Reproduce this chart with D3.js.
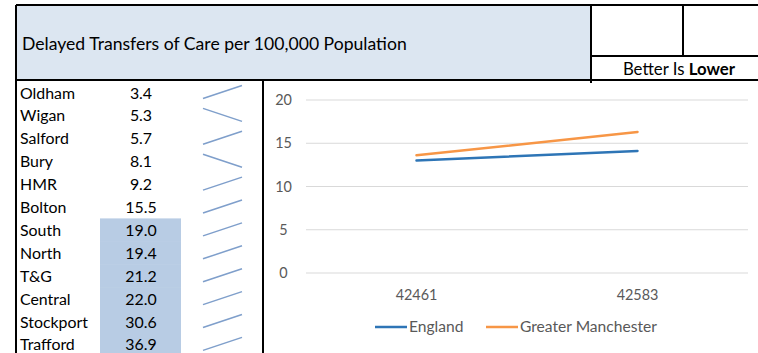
<!DOCTYPE html>
<html>
<head>
<meta charset="utf-8">
<script src="https://d3js.org/d3.v7.min.js"></script>
<style>
  body { margin: 0; background: #fff; }
  text { font-family: Lato, "Open Sans", sans-serif; }
</style>
</head>
<body>
<div id="chart"></div>
<script>
// table data
var areas = ["Oldham", "Wigan", "Salford", "Bury", "HMR", "Bolton", "South", "North", "T&G", "Central", "Stockport", "Trafford"];
var latest = [3.4, 5.3, 5.7, 8.1, 9.2, 15.5, 19.0, 19.4, 21.2, 22.0, 30.6, 36.9];
// previous period (read only from the sparkline direction)
var previous = [2.8, 6.1, 4.9, 9.0, 7.8, 12.9, 16.4, 17.0, 18.3, 19.5, 27.0, 31.8];
var highlighted = [false, false, false, false, false, false, true, true, true, true, true, true];

// chart data
var periods = ["42461", "42583"];
var england = [13.0, 14.1];
var greaterManchester = [13.6, 16.3];
var yTicks = [0, 5, 10, 15, 20];

var width = 758, height = 353;

var svg = d3.select("#chart").append("svg")
    .attr("width", width)
    .attr("height", height);

// header
svg.append("rect")
    .attr("x", 16).attr("y", 5)
    .attr("width", 575).attr("height", 75)
    .attr("fill", "#dce6f1");

svg.append("text")
    .attr("x", 22).attr("y", 44)
    .attr("dy", "0.35em")
    .style("font-size", "17.6px")
    .attr("fill", "#000")
    .text("Delayed Transfers of Care per 100,000 Population");

var better = svg.append("text")
    .attr("x", 679).attr("y", 69)
    .attr("dy", "0.35em")
    .attr("text-anchor", "middle")
    .style("font-size", "16.8px")
    .attr("fill", "#000");
better.append("tspan").text("Better Is ");
better.append("tspan").style("font-weight", "bold").text("Lower");

// table rows
var rowTop = 81.5, rowH = 22.9;
var rowY = function(i) { return rowTop + i * rowH; };

svg.append("g").selectAll("rect")
    .data(areas)
    .enter().filter(function(d, i) { return highlighted[i]; })
    .append("rect")
    .attr("x", 100)
    .attr("y", function(d) { return rowY(areas.indexOf(d)) - 0.5; })
    .attr("width", 81)
    .attr("height", rowH + 0.6)
    .attr("fill", "#b8cce4");

svg.append("g").selectAll("text")
    .data(areas)
    .enter().append("text")
    .attr("x", 20)
    .attr("y", function(d, i) { return rowY(i) + rowH / 2; })
    .attr("dy", "0.35em")
    .style("font-size", "15.9px")
    .text(function(d) { return d; });

svg.append("g").selectAll("text")
    .data(latest)
    .enter().append("text")
    .attr("x", 141)
    .attr("y", function(d, i) { return rowY(i) + rowH / 2; })
    .attr("dy", "0.35em")
    .attr("text-anchor", "middle")
    .style("font-size", "15.9px")
    .text(function(d) { return d.toFixed(1); });

// sparklines, each scaled to its own min/max like excel does
var sparkX = d3.scalePoint().domain([0, 1]).range([203, 242]);
var spark = svg.append("g");
areas.forEach(function(a, i) {
  var vals = [previous[i], latest[i]];
  var sy = d3.scaleLinear().domain(d3.extent(vals)).range([rowY(i) + 17, rowY(i) + 4]);
  spark.append("path")
      .datum(vals)
      .attr("fill", "none")
      .attr("stroke", "#7f9fcb")
      .attr("stroke-width", 1.5)
      .attr("d", d3.line()
          .x(function(d, j) { return sparkX(j); })
          .y(function(d) { return sy(d); }));
});

// chart
var x = d3.scaleBand().domain(periods).range([306, 748]);
var y = d3.scaleLinear().domain([0, 20]).range([273, 100]);

svg.append("g").selectAll("line")
    .data(yTicks)
    .enter().append("line")
    .attr("x1", 306).attr("x2", 748)
    .attr("y1", function(d) { return y(d); })
    .attr("y2", function(d) { return y(d); })
    .attr("stroke", "#d9d9d9")
    .attr("stroke-width", 1);

svg.append("g").selectAll("text")
    .data(yTicks)
    .enter().append("text")
    .attr("x", 283.5)
    .attr("y", function(d) { return y(d); })
    .attr("dy", "0.35em")
    .attr("text-anchor", "middle")
    .attr("fill", "#595959")
    .style("font-size", "14.4px")
    .text(function(d) { return d; });

svg.append("g").selectAll("text")
    .data(periods)
    .enter().append("text")
    .attr("x", function(d) { return x(d) + x.bandwidth() / 2; })
    .attr("y", 295)
    .attr("dy", "0.35em")
    .attr("text-anchor", "middle")
    .attr("fill", "#595959")
    .style("font-size", "14.4px")
    .text(function(d) { return d; });

var series = [
  { name: "England", values: england, color: "#2e75b6" },
  { name: "Greater Manchester", values: greaterManchester, color: "#f79646" }
];

var line = d3.line()
    .x(function(d, i) { return x(periods[i]) + x.bandwidth() / 2; })
    .y(function(d) { return y(d); });

svg.append("g").selectAll("path")
    .data(series)
    .enter().append("path")
    .attr("fill", "none")
    .attr("stroke", function(d) { return d.color; })
    .attr("stroke-width", 2.5)
    .attr("stroke-linecap", "round")
    .attr("d", function(d) { return line(d.values); });

// legend
var legendX = [375, 486];
var legend = svg.append("g").selectAll("g")
    .data(series)
    .enter().append("g")
    .attr("transform", function(d, i) { return "translate(" + legendX[i] + ",327)"; });
legend.append("line")
    .attr("x1", 0).attr("x2", 32)
    .attr("stroke", function(d) { return d.color; })
    .attr("stroke-width", 2.5);
legend.append("text")
    .attr("x", 34)
    .attr("dy", "0.35em")
    .attr("fill", "#595959")
    .style("font-size", "15.6px")
    .text(function(d) { return d.name; });

// grid borders
var borders = [
  [16, 5, 758, 5],
  [16, 80, 758, 80],
  [16, 5, 16, 353],
  [263, 80, 263, 353],
  [591, 5, 591, 83],
  [683, 5, 683, 56],
  [591, 56, 758, 56]
];
svg.append("g").selectAll("line")
    .data(borders)
    .enter().append("line")
    .attr("x1", function(d) { return d[0]; })
    .attr("y1", function(d) { return d[1]; })
    .attr("x2", function(d) { return d[2]; })
    .attr("y2", function(d) { return d[3]; })
    .attr("stroke", "#000")
    .attr("stroke-width", 2);
</script>
</body>
</html>
